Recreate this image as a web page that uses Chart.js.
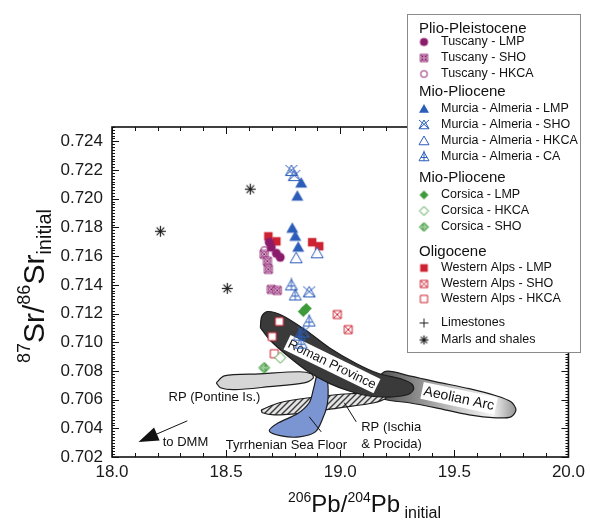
<!DOCTYPE html>
<html>
<head>
<meta charset="utf-8">
<script src="https://cdn.jsdelivr.net/npm/chart.js@4.4.1/dist/chart.umd.min.js"></script>
<style>
html, body { margin: 0; padding: 0; background: #fff; }
</style>
</head>
<body>
<canvas id="srPb" width="590" height="520"></canvas>
<script>
// axis tick labels
const xTicks = [18.0, 18.5, 19.0, 19.5, 20.0];
const yTicks = [0.702, 0.704, 0.706, 0.708, 0.710, 0.712, 0.714, 0.716, 0.718, 0.720, 0.722, 0.724];

// samples: [206Pb/204Pb, 87Sr/86Sr]
const tuscanyLMP = [[18.689, 0.71697], [18.698, 0.71662], [18.720, 0.71620], [18.737, 0.71592]];
const tuscanySHO = [[18.667, 0.71613], [18.681, 0.71564], [18.685, 0.71508], [18.698, 0.71368], [18.724, 0.71361]];
const tuscanyHKCA = [[18.668, 0.71640]];
const murciaLMP = [[18.829, 0.72109], [18.812, 0.72018], [18.790, 0.71794], [18.803, 0.71738], [18.816, 0.71662]];
const murciaSHO = [[18.786, 0.72193], [18.799, 0.72158], [18.864, 0.71347], [18.838, 0.71067]];
const murciaHKCA = [[18.807, 0.71585], [18.899, 0.71620]];
const murciaCA = [[18.786, 0.71396], [18.803, 0.71326], [18.864, 0.71144], [18.821, 0.71046], [18.829, 0.70990]];
const corsicaLMP = [[18.838, 0.71214], [18.851, 0.71235]];
const corsicaHKCA = [[18.737, 0.70892]];
const corsicaSHO = [[18.667, 0.70822]];
const alpsLMP = [[18.685, 0.71738], [18.720, 0.71703], [18.877, 0.71697], [18.908, 0.71669]];
const alpsSHO = [[18.987, 0.71193], [19.035, 0.71088]];
const alpsHKCA = [[18.733, 0.71144], [18.702, 0.71039], [18.711, 0.70920]];
const limestones = [];
const marls = [[18.212, 0.71773], [18.606, 0.72067], [18.505, 0.71375]];

// field outlines (same units)
const romanProvince = [[18.650, 0.71102], [18.656, 0.71180], [18.681, 0.71214], [18.746, 0.71186], [18.851, 0.71081],
  [18.952, 0.70962], [19.070, 0.70852], [19.171, 0.70780], [19.271, 0.70742], [19.315, 0.70707], [19.321, 0.70669],
  [19.289, 0.70632], [19.214, 0.70618], [19.127, 0.70625], [19.039, 0.70660], [18.952, 0.70713], [18.864, 0.70790],
  [18.777, 0.70895], [18.695, 0.71010]];
const aeolianArc = [[19.136, 0.70648], [19.193, 0.70794], [19.302, 0.70766], [19.420, 0.70724], [19.565, 0.70676],
  [19.683, 0.70627], [19.748, 0.70585], [19.770, 0.70529], [19.748, 0.70480], [19.683, 0.70473], [19.565, 0.70494],
  [19.420, 0.70543], [19.302, 0.70578], [19.201, 0.70599]];
const pontine = [[18.457, 0.70717], [18.492, 0.70766], [18.646, 0.70780], [18.821, 0.70794], [18.873, 0.70780],
  [18.882, 0.70752], [18.842, 0.70717], [18.689, 0.70690], [18.536, 0.70669], [18.475, 0.70683]];
const tyrrhenian = [[18.895, 0.70759], [18.939, 0.70745], [18.947, 0.70669], [18.943, 0.70564], [18.921, 0.70459],
  [18.891, 0.70375], [18.821, 0.70340], [18.742, 0.70347], [18.689, 0.70382], [18.729, 0.70438], [18.812, 0.70501],
  [18.864, 0.70578], [18.882, 0.70669]];
const ischia = [[18.654, 0.70529], [18.733, 0.70578], [18.864, 0.70613], [19.039, 0.70641], [19.171, 0.70641],
  [19.201, 0.70613], [19.149, 0.70578], [18.996, 0.70543], [18.842, 0.70508], [18.711, 0.70494], [18.659, 0.70508]];

// annotations: [text, x, y]
const notes = [
  ['RP (Pontine Is.)', 18.449, 0.70613],
  ['to DMM', 18.322, 0.70305],
  ['Tyrrhenian Sea Floor', 18.764, 0.70284]
];
const ischiaNote = [['RP (Ischia', 19.092, 0.70403], ['& Procida)', 19.092, 0.70291]];
const leaders = [[[18.864, 0.70480], [18.917, 0.70375]], [[19.018, 0.70578], [19.070, 0.70445]]];
const dmmArrow = [[18.330, 0.70452], [18.116, 0.70305]];

const FONT = '"Liberation Sans", Arial, Helvetica, sans-serif';
const TUS = '#8b1c6c', MUR = '#2c5db8', COR = '#3d9a3a', ALP = '#cd2232', BLK = '#222';

// marker symbols drawn on small canvases
function mark(kind, color, s) {
  const n = s + 4;
  const c = document.createElement('canvas');
  c.width = n; c.height = n;
  const g = c.getContext('2d');
  const m = n / 2, r = s / 2;
  g.strokeStyle = color; g.fillStyle = color; g.lineWidth = 1;
  const tri = () => { g.beginPath(); g.moveTo(m, m - r); g.lineTo(m + r, m + r * 0.75); g.lineTo(m - r, m + r * 0.75); g.closePath(); };
  const dia = () => { g.beginPath(); g.moveTo(m, m - r); g.lineTo(m + r, m); g.lineTo(m, m + r); g.lineTo(m - r, m); g.closePath(); };
  const sq = k => { g.beginPath(); g.rect(m - r * k, m - r * k, 2 * r * k, 2 * r * k); };
  const ln = (a, b, c2, d) => { g.beginPath(); g.moveTo(a, b); g.lineTo(c2, d); g.stroke(); };
  const white = () => { g.fillStyle = '#fff'; g.fill(); g.fillStyle = color; };
  switch (kind) {
    case 'dot': g.beginPath(); g.arc(m, m, r * 0.9, 0, 7); g.fill(); break;
    case 'ring': g.beginPath(); g.arc(m, m, r * 0.75, 0, 7); white(); g.stroke(); break;
    case 'ringX':
      sq(0.8); white(); g.stroke();
      ln(m - r * 0.8, m - r * 0.8, m + r * 0.8, m + r * 0.8); ln(m + r * 0.8, m - r * 0.8, m - r * 0.8, m + r * 0.8);
      g.beginPath(); g.arc(m, m, r * 0.5, 0, 7); g.stroke(); break;
    case 'tri': tri(); g.fill(); break;
    case 'triOpen': tri(); white(); g.stroke(); break;
    case 'triX': tri(); g.stroke(); ln(m - r, m - r, m + r, m + r * 0.75); ln(m + r, m - r, m - r, m + r * 0.75); break;
    case 'triPlus': tri(); g.stroke(); ln(m, m - r - 1.5, m, m + r * 0.75); ln(m - r * 0.6, m + r * 0.1, m + r * 0.6, m + r * 0.1); break;
    case 'dia': dia(); g.fill(); break;
    case 'diaOpen': dia(); white(); g.stroke(); break;
    case 'diaHatch':
      dia(); g.stroke(); g.save(); dia(); g.clip();
      for (let k = -s; k <= s; k += 2.5) { ln(m + k - r, m - r, m + k + r, m + r); ln(m + k + r, m - r, m + k - r, m + r); }
      g.restore(); break;
    case 'sq': sq(0.85); g.fill(); break;
    case 'sqOpen': sq(0.8); white(); g.stroke(); break;
    case 'sqX': sq(0.8); white(); g.stroke(); ln(m - r * 0.8, m - r * 0.8, m + r * 0.8, m + r * 0.8); ln(m + r * 0.8, m - r * 0.8, m - r * 0.8, m + r * 0.8); break;
    case 'plus': ln(m - r, m, m + r, m); ln(m, m - r, m, m + r); break;
    case 'star':
      g.lineWidth = 1.2;
      ln(m - r, m, m + r, m); ln(m, m - r, m, m + r);
      ln(m - r * 0.7, m - r * 0.7, m + r * 0.7, m + r * 0.7); ln(m + r * 0.7, m - r * 0.7, m - r * 0.7, m + r * 0.7); break;
  }
  return c;
}

const seriesDefs = [
  ['Tuscany - LMP', tuscanyLMP, 'dot', TUS, 10],
  ['Tuscany - SHO', tuscanySHO, 'ringX', TUS, 10],
  ['Tuscany - HKCA', tuscanyHKCA, 'ring', TUS, 10],
  ['Murcia - Almeria - LMP', murciaLMP, 'tri', MUR, 12],
  ['Murcia - Almeria - SHO', murciaSHO, 'triX', MUR, 12],
  ['Murcia - Almeria - HKCA', murciaHKCA, 'triOpen', MUR, 12],
  ['Murcia - Almeria - CA', murciaCA, 'triPlus', MUR, 12],
  ['Corsica - LMP', corsicaLMP, 'dia', COR, 11],
  ['Corsica - HKCA', corsicaHKCA, 'diaOpen', COR, 11],
  ['Corsica - SHO', corsicaSHO, 'diaHatch', COR, 11],
  ['Western Alps - LMP', alpsLMP, 'sq', ALP, 10],
  ['Western Alps - SHO', alpsSHO, 'sqX', ALP, 10],
  ['Western Alps - HKCA', alpsHKCA, 'sqOpen', ALP, 10],
  ['Limestones', limestones, 'plus', BLK, 10],
  ['Marls and shales', marls, 'star', BLK, 11]
];

const legendMarks = {};
const pointSets = seriesDefs.map(([label, pts, kind, color, size]) => {
  legendMarks[label] = mark(kind, color, Math.round(size * 0.85));
  return { type: 'scatter', label, data: pts, pointStyle: mark(kind, color, size), pointRadius: 5, order: 0 };
});

// hatch pattern for Ischia & Procida
const hatchCanvas = document.createElement('canvas');
hatchCanvas.width = 6; hatchCanvas.height = 6;
(function () {
  const g = hatchCanvas.getContext('2d');
  g.fillStyle = '#e4e4e4'; g.fillRect(0, 0, 6, 6);
  g.strokeStyle = '#3a3a3a'; g.lineWidth = 1.4;
  g.beginPath(); g.moveTo(0, 6); g.lineTo(6, 0); g.moveTo(-3, 3); g.lineTo(3, -3); g.moveTo(3, 9); g.lineTo(9, 3); g.stroke();
})();
const hatch = hatchCanvas.getContext('2d').createPattern(hatchCanvas, 'repeat');

function aeolianFill(ctx) {
  const chart = ctx.chart;
  if (!chart.chartArea) return '#aaa';
  const x = chart.scales.x;
  const g = chart.ctx.createLinearGradient(x.getPixelForValue(19.15), 0, x.getPixelForValue(19.78), 0);
  g.addColorStop(0, '#4a4a4a');
  g.addColorStop(0.55, '#c4c4c4');
  g.addColorStop(0.82, '#f4f4f4');
  g.addColorStop(1, '#8a8a8a');
  return g;
}

function field(label, pts, fill, order) {
  return {
    type: 'line', label, data: pts.concat([pts[0]]), order,
    fill: 'shape', backgroundColor: fill, borderColor: '#1c1c1c', borderWidth: 1.2,
    tension: 0.3, pointRadius: 0, pointHoverRadius: 0
  };
}

const fieldSets = [
  field('Roman Province', romanProvince, '#3a3a3a', 1),
  field('Tyrrhenian Sea Floor', tyrrhenian, '#7b94d2', 2),
  field('RP (Pontine Is.)', pontine, '#d6d6d6', 3),
  field('RP (Ischia & Procida)', ischia, hatch, 4),
  field('Aeolian Arc', aeolianArc, aeolianFill, 5)
];

function boxedLabel(ctx, text, px, py, angle, size) {
  ctx.save();
  ctx.translate(px, py);
  ctx.rotate(angle * Math.PI / 180);
  ctx.font = size + 'px ' + FONT;
  const w = ctx.measureText(text).width;
  ctx.fillStyle = '#fff';
  ctx.fillRect(-w / 2 - 2, -size / 2 - 1, w + 4, size + 3);
  ctx.fillStyle = '#111';
  ctx.textAlign = 'center'; ctx.textBaseline = 'middle';
  ctx.fillText(text, 0, 1);
  ctx.restore();
}

function richText(ctx, parts, x, y) {
  let cx = x;
  parts.forEach(([t, size, dy]) => {
    ctx.font = size + 'px ' + FONT;
    ctx.fillText(t, cx, y + dy);
    cx += ctx.measureText(t).width;
  });
}

const decor = {
  id: 'decor',
  beforeDatasetsDraw(chart) {
    const { ctx, chartArea: a, scales: { x, y } } = chart;
    ctx.save();
    ctx.strokeStyle = '#111';
    ctx.lineWidth = 1;
    ctx.beginPath();
    for (let i = 0; i <= 20; i++) {
      const p = Math.round(x.getPixelForValue(18 + i * 0.1)) + 0.5;
      const len = i % 5 === 0 ? 7 : 4;
      ctx.moveTo(p, a.bottom); ctx.lineTo(p, a.bottom - len);
      ctx.moveTo(p, a.top); ctx.lineTo(p, a.top + len);
    }
    for (let i = 0; i <= 115; i++) {
      const p = Math.round(y.getPixelForValue(0.702 + i * 0.0002)) + 0.5;
      const len = i % 10 === 0 ? 7 : 3;
      ctx.moveTo(a.left, p); ctx.lineTo(a.left + len, p);
      ctx.moveTo(a.right, p); ctx.lineTo(a.right - len, p);
    }
    ctx.stroke();
    ctx.lineWidth = 1.6;
    ctx.strokeRect(a.left, a.top, a.right - a.left, a.bottom - a.top);
    ctx.restore();
  },
  afterDatasetDraw(chart, args) {
    if (chart.data.datasets[args.index].label !== 'Roman Province') return;
    const { ctx, scales: { x, y } } = chart;
    boxedLabel(ctx, 'Roman Province', x.getPixelForValue(18.965), y.getPixelForValue(0.70850), 26, 13);
    boxedLabel(ctx, 'Aeolian Arc', x.getPixelForValue(19.521), y.getPixelForValue(0.70613), 12, 14);
  },
  afterDatasetsDraw(chart) {
    const { ctx, scales: { x, y } } = chart;
    ctx.save();
    ctx.fillStyle = '#111';
    ctx.strokeStyle = '#111';
    ctx.lineWidth = 1;
    ctx.font = '13px ' + FONT;
    ctx.textBaseline = 'middle';
    ctx.textAlign = 'center';
    notes.forEach(([t, vx, vy]) => ctx.fillText(t, x.getPixelForValue(vx), y.getPixelForValue(vy)));
    ctx.textAlign = 'left';
    ischiaNote.forEach(([t, vx, vy]) => ctx.fillText(t, x.getPixelForValue(vx), y.getPixelForValue(vy)));
    leaders.forEach(([p, q]) => {
      ctx.beginPath();
      ctx.moveTo(x.getPixelForValue(p[0]), y.getPixelForValue(p[1]));
      ctx.lineTo(x.getPixelForValue(q[0]), y.getPixelForValue(q[1]));
      ctx.stroke();
    });
    // arrow to DMM
    const x0 = x.getPixelForValue(dmmArrow[0][0]), y0 = y.getPixelForValue(dmmArrow[0][1]);
    const x1 = x.getPixelForValue(dmmArrow[1][0]), y1 = y.getPixelForValue(dmmArrow[1][1]);
    const ang = Math.atan2(y1 - y0, x1 - x0);
    ctx.beginPath(); ctx.moveTo(x0, y0); ctx.lineTo(x1 - 15 * Math.cos(ang), y1 - 15 * Math.sin(ang)); ctx.stroke();
    ctx.beginPath();
    ctx.moveTo(x1, y1);
    ctx.lineTo(x1 - 20 * Math.cos(ang) + 7 * Math.sin(ang), y1 - 20 * Math.sin(ang) - 7 * Math.cos(ang));
    ctx.lineTo(x1 - 20 * Math.cos(ang) - 7 * Math.sin(ang), y1 - 20 * Math.sin(ang) + 7 * Math.cos(ang));
    ctx.closePath(); ctx.fill();
    ctx.restore();
  },
  afterDraw(chart) {
    const ctx = chart.ctx;
    ctx.save();
    ctx.fillStyle = '#111';
    ctx.textBaseline = 'alphabetic';
    ctx.textAlign = 'left';
    // axis titles
    richText(ctx, [['206', 14, -10], ['Pb', 24, 0], ['/', 24, 0], ['204', 14, -10], ['Pb', 24, 0], [' initial', 16, 6]], 288, 512);
    ctx.save();
    ctx.translate(44, 363);
    ctx.rotate(-Math.PI / 2);
    richText(ctx, [['87', 18, -14], ['Sr', 30, 0], ['/', 30, 0], ['86', 18, -14], ['Sr', 30, 0], ['initial', 20, 7]], 0, 0);
    ctx.restore();

    // legend box
    ctx.fillStyle = '#fff';
    ctx.fillRect(407, 14, 173, 338);
    ctx.strokeStyle = '#8a8a8a';
    ctx.lineWidth = 1;
    ctx.strokeRect(407.5, 14.5, 173, 338);
    ctx.fillStyle = '#111';
    ctx.textBaseline = 'middle';
    const rows = [
      ['Plio-Pleistocene', 29], ['Tuscany - LMP', 42], ['Tuscany - SHO', 58], ['Tuscany - HKCA', 74],
      ['Mio-Pliocene', 92], ['Murcia - Almeria - LMP', 109], ['Murcia - Almeria - SHO', 125],
      ['Murcia - Almeria - HKCA', 141], ['Murcia - Almeria - CA', 157],
      ['Mio-Pliocene', 178], ['Corsica - LMP', 195], ['Corsica - HKCA', 211], ['Corsica - SHO', 227],
      ['Oligocene', 252], ['Western Alps - LMP', 268], ['Western Alps - SHO', 284], ['Western Alps - HKCA', 299],
      ['Limestones', 323], ['Marls and shales', 340]
    ];
    rows.forEach(([t, ry]) => {
      const m = legendMarks[t];
      if (m) {
        ctx.drawImage(m, 424 - m.width / 2, ry - m.height / 2);
        ctx.font = '12.5px ' + FONT;
        ctx.fillText(t, 441, ry);
      } else {
        ctx.font = '15px ' + FONT;
        ctx.fillText(t, 419, ry);
      }
    });
    ctx.restore();
  }
};

new Chart(document.getElementById('srPb'), {
  type: 'scatter',
  data: { datasets: pointSets.concat(fieldSets) },
  options: {
    responsive: false,
    animation: false,
    events: [],
    layout: { padding: { left: 0, top: 127, right: 20, bottom: 0 } },
    plugins: { legend: { display: false }, tooltip: { enabled: false } },
    scales: {
      x: {
        type: 'linear', min: 18, max: 20,
        afterFit: s => { s.height = 63; },
        afterBuildTicks: s => { s.ticks = xTicks.map(v => ({ value: v })); },
        grid: { display: false, drawTicks: false },
        border: { display: false },
        ticks: { padding: 5, color: '#1a1a1a', font: { size: 17, family: FONT }, callback: v => v.toFixed(1) }
      },
      y: {
        type: 'linear', min: 0.702, max: 0.725,
        afterFit: s => { s.width = 112; },
        afterBuildTicks: s => { s.ticks = yTicks.map(v => ({ value: v })); },
        grid: { display: false, drawTicks: false },
        border: { display: false },
        ticks: { padding: 9, color: '#1a1a1a', font: { size: 17, family: FONT }, callback: v => v.toFixed(3) }
      }
    }
  },
  plugins: [decor]
});
</script>
</body>
</html>
